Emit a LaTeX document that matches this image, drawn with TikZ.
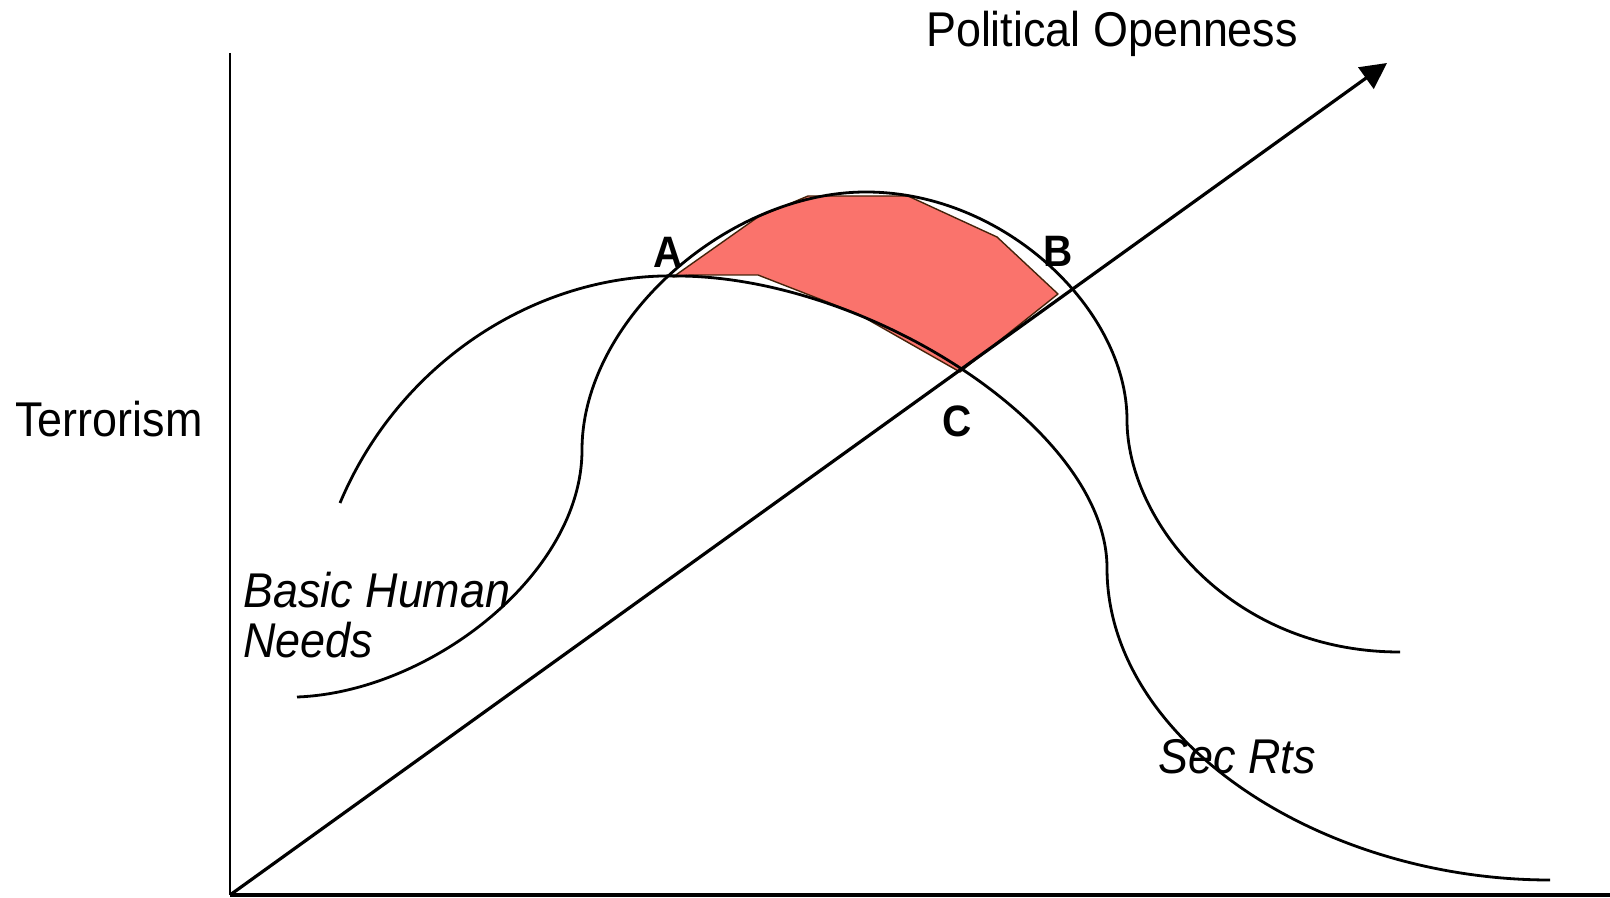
\documentclass[tikz,border=0pt]{standalone}
\usepackage{fontspec}
\setmainfont{Liberation Sans}[FakeStretch=0.92]
\usetikzlibrary{arrows.meta}
\definecolor{fillred}{RGB}{250,115,108}
\definecolor{rimbrown}{RGB}{70,35,10}
\tikzset{
  curve/.style={line width=1.4pt},
  axislbl/.style={font=\fontsize{24.4}{28}\selectfont, anchor=base, inner sep=0pt},
  ptlbl/.style={font=\fontsize{22}{26}\selectfont\bfseries, anchor=base, inner sep=0pt},
  curvelbl/.style={font=\fontsize{24.4}{25}\selectfont\itshape, inner sep=0pt},
  region/.style={fill=fillred, draw=rimbrown, line width=.7pt, line join=round}
}
\begin{document}
\begin{tikzpicture}[x=.5pt,y=-.5pt]
\useasboundingbox (0,0) rectangle (1610,898);
\coordinate (O) at (230,895); \coordinate (Y) at (230,53); \coordinate (X) at (1610,895); \coordinate (T) at (1387,63);
\coordinate (A) at (673,277); \coordinate (B) at (1068,292); \coordinate (C) at (963,370);
% shaded region between the curves
\filldraw[region] (A) -- (758,217) -- (808,196) -- (908,196) -- (997,237) -- (1058,294) -- (960,372) -- (858,314) -- (758,275) -- (690,275) -- cycle;
% the two curves
\draw[curve] (340,503) .. controls (400,360) and (540,272) .. (680,276)
  .. controls (870,278) and (1107,430) .. (1107,568)
  .. controls (1107,740) and (1320,880) .. (1550,880);
\draw[curve] (297,697) .. controls (430,692) and (582,574) .. (582,450)
  .. controls (582,320) and (728,192) .. (866,192)
  .. controls (1005,192) and (1127,310) .. (1127,420)
  .. controls (1127,520) and (1230,652) .. (1400,652);
% axes
\draw[line width=1.3pt] (Y) -- (O);
\draw[line width=2pt] (O) -- (X);
\draw[line width=1.6pt,-{Triangle[length=13pt,width=13pt]}] (O) -- (T);
\node[axislbl] (po) at (1112,47) {Political Openness};
\node[axislbl] (terr) at (109,437) {Terrorism};
\node[curvelbl,align=left,anchor=base west] (bhn) at (243,657) {Basic Human\\Needs};
\node[curvelbl,anchor=base] (sr) at (1237,773) {Sec Rts};
\foreach \p/\x/\y in {A/668/268,B/1058/267,C/957/437} \node[ptlbl] (l\p) at (\x,\y) {\p};
\end{tikzpicture}
\end{document}
